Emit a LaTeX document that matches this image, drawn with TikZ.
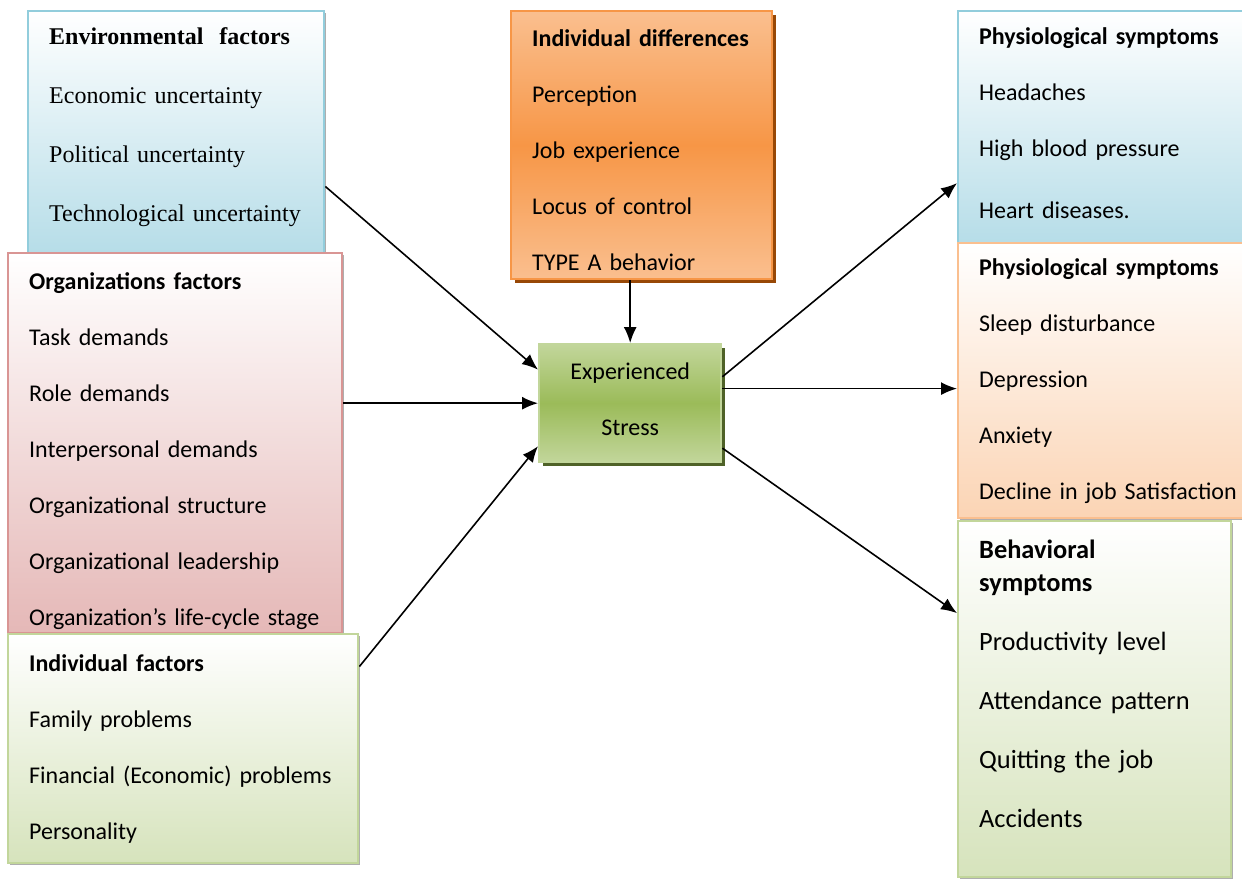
\documentclass[tikz,border=0pt]{standalone}
\usepackage{fontspec}
\setmainfont{Carlito}
\newfontfamily\timesfont{Liberation Serif}
\usetikzlibrary{arrows.meta,shadows}

\definecolor{envblue}{HTML}{B6DDE8}
\definecolor{envline}{HTML}{92CDDC}
\definecolor{orgred}{HTML}{E5B8B7}
\definecolor{orgline}{HTML}{D99594}
\definecolor{indgreen}{HTML}{D6E3BC}
\definecolor{indline}{HTML}{C2D69B}
\definecolor{difforange}{HTML}{F79646}
\definecolor{difflight}{HTML}{FABF8F}
\definecolor{diffdark}{HTML}{984806}
\definecolor{stressgreen}{HTML}{9BBB59}
\definecolor{stressdark}{HTML}{4F6228}
\definecolor{peach}{HTML}{FBD4B4}

\begin{document}
\begin{tikzpicture}[x=0.5pt,y=-0.5pt,>={Latex[length=8pt,width=6.5pt]},
   factbox/.style={draw,line width=1.2pt,anchor=north west,align=left,
      inner xsep=10.5pt,inner ysep=0pt,font=\fontsize{12}{28}\selectfont},
   softshadow/.style={drop shadow={shadow xshift=1pt,shadow yshift=-1pt,fill=black!45,opacity=0.7}},
   blueish/.style={draw=envline,top color=white,bottom color=envblue,softshadow},
   greenish/.style={draw=indline,top color=white,bottom color=indgreen,softshadow}]
   \useasboundingbox (0,0) rectangle (1242,878);

   % causes
   \node[factbox,blueish,text width=127pt,minimum height=121pt,
      font=\timesfont\fontsize{12}{29.5}\selectfont] (env) at (27,10)
      {\textbf{Environmental\ \ factors}\\Economic uncertainty\\Political uncertainty\\\mbox{Technological uncertainty}\\[-22pt]\mbox{}};
   \node[factbox,draw=orgline,top color=white,bottom color=orgred,softshadow,
      text width=146pt,minimum height=190pt] (org) at (7,252)
      {\mbox{}\\[-12pt]\textbf{Organizations factors}\\Task demands\\Role demands\\Interpersonal demands\\Organizational structure\\Organizational leadership\\\mbox{Organization’s life-cycle stage}};
   \node[factbox,greenish,text width=154pt,minimum height=114.5pt] (indf) at (7,633)
      {\textbf{Individual factors}\\Family problems\\\mbox{Financial (Economic) problems}\\Personality};

   % moderators
   \node[factbox,draw=difforange,top color=difflight,bottom color=difflight,middle color=difforange,
      drop shadow={shadow xshift=2pt,shadow yshift=-2pt,fill=diffdark,opacity=1},
      text width=109.5pt,minimum height=134pt] (inddiff) at (510,10)
      {\mbox{}\\[-15pt]\textbf{Individual differences}\\Perception\\Job experience\\Locus of control\\TYPE A behavior};
   \node[draw=indline,line width=1.2pt,anchor=north west,align=center,minimum width=91pt,minimum height=59pt,
      top color=indline,bottom color=indline,middle color=stressgreen,
      drop shadow={shadow xshift=2pt,shadow yshift=-2pt,fill=stressdark,opacity=1},
      font=\fontsize{12}{28}\selectfont] (stress) at (538,343) {Experienced\\Stress\\[-24pt]\mbox{}};

   % consequences
   \node[factbox,blueish,text width=131.5pt,minimum height=116pt] (phys1) at (957,10)
      {\textbf{Physiological symptoms}\\Headaches\\High blood pressure\\[3pt]Heart diseases.\\[-24pt]\mbox{}};
   \node[factbox,draw=difflight,top color=white,bottom color=peach,softshadow,
      text width=131.5pt,minimum height=137.5pt] (phys2) at (957,242)
      {\textbf{Physiological symptoms}\\Sleep disturbance\\Depression\\Anxiety\\\mbox{Decline in job Satisfaction}};
   \node[factbox,greenish,text width=115.5pt,minimum height=178pt,
      font=\fontsize{13.2}{29.5}\selectfont] (behav) at (957,520)
      {\textbf{Behavioral}\\[-13pt]\textbf{symptoms}\\Productivity level\\Attendance pattern\\Quitting the job\\Accidents\\[-14.5pt]\mbox{}};

   \path[->,line width=0.8pt]
      (env.-20) edge (stress.160)
      (stress.west -| org.east) edge (stress.west)
      (indf.25) edge (stress.205)
      (stress.north |- inddiff.south) edge (stress.north)
      (stress.16) edge (phys1.200)
      (stress.9) edge (stress.9 -| phys2.west)
      (stress.-26) edge (behav.148);
\end{tikzpicture}
\end{document}
